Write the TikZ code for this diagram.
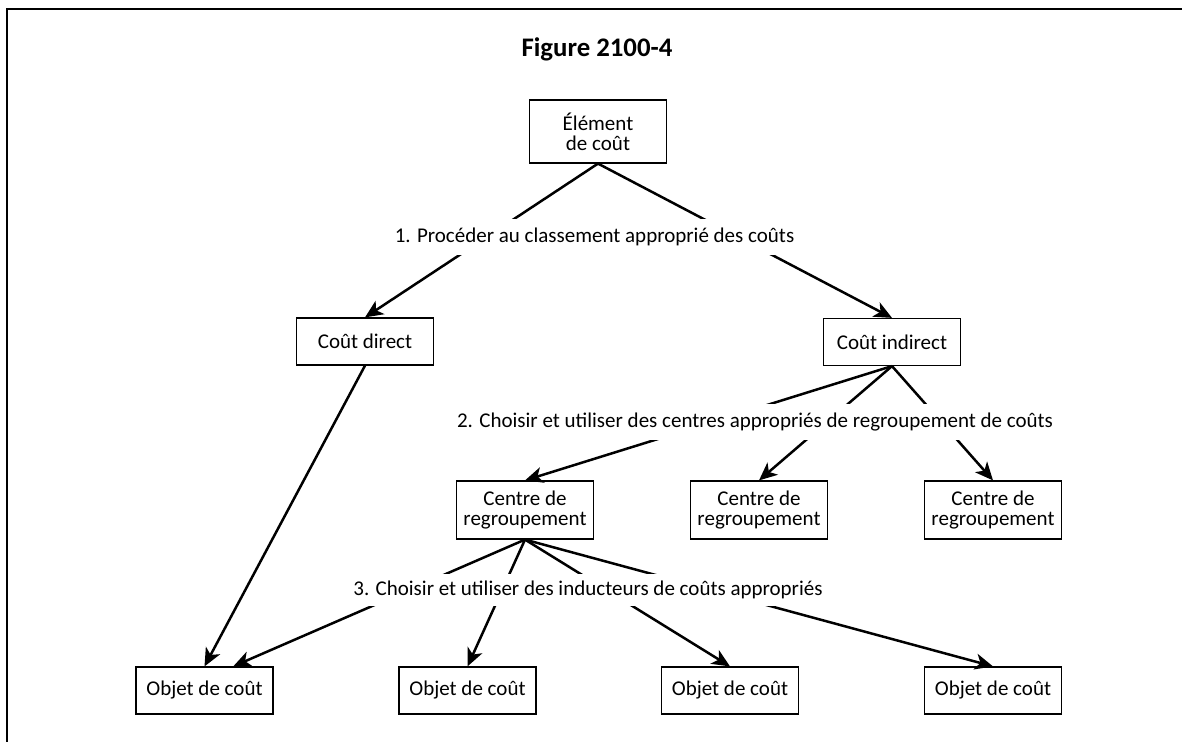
\documentclass[tikz,border=0pt]{standalone}
\usepackage{fontspec}
\setmainfont{Carlito}
\usetikzlibrary{arrows.meta}
\tikzstyle{kbox}=[draw, line width=0.6pt, minimum width=68.5pt, minimum height=23.5pt, inner sep=2pt, align=center, font=\fontsize{10.5}{10}\selectfont]
\tikzstyle{phase}=[fill=white, inner xsep=1pt, inner ysep=4.5pt, font=\fontsize{10.5}{12}\selectfont]
\tikzstyle{arr}=[line width=1.25pt, -{Stealth[length=9pt,width=8pt,inset=2.5pt]}]
\newcommand{\kbox}{\node[kbox]}
\newcommand{\phase}{\node[phase]}

\begin{document}
\begin{tikzpicture}[x=0.5pt,y=-0.5pt]
	\useasboundingbox (0,0) rectangle (1182,742);
	\draw[line width=1pt] (7,742) -- (7,9) -- (1182,9);
	\node (t) at (597,49) {\fontsize{13.4}{14}\selectfont\bfseries Figure 2100-4};

	\kbox (1) at (598,131.5)[minimum height=31.5pt] {Élément\\de coût};
	\kbox (2) at (365,341.5) {Coût direct};
	\kbox (3) at (892,342) {Coût indirect};
	\kbox (4) at (525,510)[minimum height=29pt] {Centre de\\regroupement};
	\kbox (5) at (759,510)[minimum height=29pt] {Centre de\\regroupement};
	\kbox (6) at (993,510)[minimum height=29pt] {Centre de\\regroupement};
	\kbox (7) at (204.5,690.5) {Objet de coût};
	\kbox (8) at (467.5,690.5) {Objet de coût};
	\kbox (9) at (730,690.5) {Objet de coût};
	\kbox (10) at (993,690.5) {Objet de coût};

	\path[arr]
		(1.south) edge (2.north)
		(1.south) edge (3.north)
		(2.south) edge (7.north)
		(3.south) edge (4.north)
		(3.south) edge (5.north)
		(3.south) edge (6.north)
		(4.south) edge (7.40)
		(4.south) edge (8.north)
		(4.south) edge (9.north)
		(4.south) edge (10.north)
	;

	% etapes
	\phase (s1) at (594.5,237) {1. Procéder au classement approprié des coûts};
	\phase (s2) at (755,422) {2. Choisir et utiliser des centres appropriés de regroupement de coûts};
	\phase (s3) at (588,590)[inner ysep=3.5pt] {3. Choisir et utiliser des inducteurs de coûts appropriés};
\end{tikzpicture}
\end{document}
